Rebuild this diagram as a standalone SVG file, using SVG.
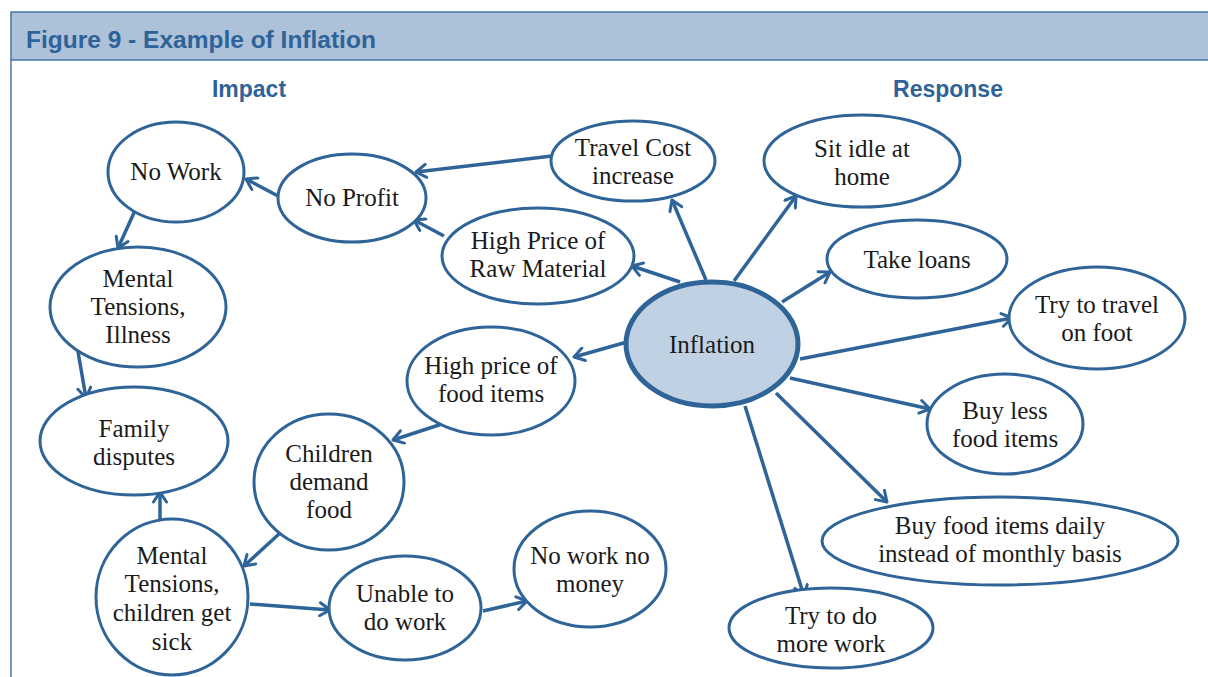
<svg xmlns="http://www.w3.org/2000/svg" width="1208" height="677" viewBox="0 0 1208 677">
<defs>
<marker id="arr" markerWidth="16" markerHeight="16" refX="13" refY="8" orient="auto" markerUnits="userSpaceOnUse">
<path d="M3,1.5 L13,8 L3,14.5" fill="none" stroke="#2f6499" stroke-width="3" stroke-linecap="round" stroke-linejoin="round"/>
</marker>
</defs>
<style>
.n{fill:#fff;stroke:#2f6499;stroke-width:3}
.c{fill:#c0d1e3;stroke:#2f6499;stroke-width:5}
.t{font-family:"Liberation Serif","Times New Roman",serif;font-size:25px;fill:#1a1a1a;text-anchor:middle}
.h{font-family:"Liberation Sans",Arial,sans-serif;font-weight:bold;fill:#2e6399;text-anchor:middle}
#connectors line{stroke:#2f6499;stroke-width:3.5;marker-end:url(#arr)}
</style>
<rect width="1208" height="677" fill="#fff"/>
<g id="frame">
<rect x="11" y="12" width="1210" height="48" fill="#adc2d8" stroke="#4a74a4" stroke-width="1.5"/>
<line x1="11" y1="60" x2="11" y2="677" stroke="#4a74a4" stroke-width="1.5"/>
<text x="26" y="48" class="h" style="text-anchor:start;font-size:24.5px">Figure 9 - Example of Inflation</text>
<text x="249" y="97" class="h" style="font-size:23px">Impact</text>
<text x="948" y="97" class="h" style="font-size:23px">Response</text>
</g>
<g id="connectors">
<line x1="552" y1="156" x2="416" y2="172"/>
<line x1="278" y1="196" x2="246" y2="179"/>
<line x1="444" y1="236" x2="414" y2="220"/>
<line x1="680" y1="282" x2="632" y2="266"/>
<line x1="706" y1="280" x2="672" y2="200"/>
<line x1="734" y1="281" x2="796" y2="196"/>
<line x1="782" y1="302" x2="830" y2="272"/>
<line x1="800" y1="359" x2="1012" y2="318"/>
<line x1="790" y1="378" x2="930" y2="409"/>
<line x1="776" y1="393" x2="887" y2="502"/>
<line x1="745" y1="406" x2="804" y2="596"/>
<line x1="627" y1="342" x2="574" y2="357"/>
<line x1="442" y1="424" x2="393" y2="440"/>
<line x1="279" y1="534" x2="244" y2="566"/>
<line x1="160" y1="520" x2="160" y2="492"/>
<line x1="250" y1="604" x2="330" y2="610"/>
<line x1="483" y1="611" x2="527" y2="601"/>
<line x1="138" y1="204" x2="118" y2="248"/>
<line x1="77" y1="346" x2="86" y2="398"/>
</g>
<g id="no-work"><ellipse cx="176" cy="172" rx="68" ry="50" class="n"/><text x="176" y="180" class="t">No Work</text></g>
<g id="no-profit"><ellipse cx="352" cy="198" rx="74" ry="44" class="n"/><text x="352" y="206" class="t">No Profit</text></g>
<g id="travel-cost"><ellipse cx="633" cy="161" rx="82" ry="40" class="n"/><text x="633" y="156" class="t">Travel Cost</text><text x="633" y="184" class="t">increase</text></g>
<g id="raw-material"><ellipse cx="538" cy="256" rx="96" ry="48" class="n"/><text x="538" y="249" class="t">High Price of</text><text x="538" y="277" class="t">Raw Material</text></g>
<g id="sit-idle"><ellipse cx="862" cy="161" rx="98" ry="46" class="n"/><text x="862" y="157" class="t">Sit idle at</text><text x="862" y="185" class="t">home</text></g>
<g id="take-loans"><ellipse cx="917" cy="259" rx="90" ry="39" class="n"/><text x="917" y="268" class="t">Take loans</text></g>
<g id="travel-foot"><ellipse cx="1097" cy="318" rx="88" ry="51" class="n"/><text x="1097" y="313" class="t">Try to travel</text><text x="1097" y="341" class="t">on foot</text></g>
<g id="inflation"><ellipse cx="712" cy="344" rx="86" ry="62" class="c"/><text x="712" y="353" class="t">Inflation</text></g>
<g id="food-price"><ellipse cx="491" cy="381" rx="84" ry="54" class="n"/><text x="491" y="374" class="t">High price of</text><text x="491" y="402" class="t">food items</text></g>
<g id="mental-illness"><ellipse cx="138" cy="307" rx="88" ry="60" class="n"/><text x="138" y="287" class="t">Mental</text><text x="138" y="315" class="t">Tensions,</text><text x="138" y="343" class="t">Illness</text></g>
<g id="family-disputes"><ellipse cx="134" cy="441" rx="94" ry="54" class="n"/><text x="134" y="437" class="t">Family</text><text x="134" y="465" class="t">disputes</text></g>
<g id="children-demand"><ellipse cx="329" cy="482" rx="75" ry="68" class="n"/><text x="329" y="462" class="t">Children</text><text x="329" y="490" class="t">demand</text><text x="329" y="518" class="t">food</text></g>
<g id="buy-less"><ellipse cx="1005" cy="424" rx="78" ry="50" class="n"/><text x="1005" y="419" class="t">Buy less</text><text x="1005" y="447" class="t">food items</text></g>
<g id="buy-daily"><ellipse cx="1000" cy="541" rx="178" ry="44" class="n"/><text x="1000" y="534" class="t">Buy food items daily</text><text x="1000" y="562" class="t">instead of monthly basis</text></g>
<g id="mental-children"><ellipse cx="172" cy="597" rx="76" ry="78" class="n"/><text x="172" y="564" class="t">Mental</text><text x="172" y="592" class="t">Tensions,</text><text x="172" y="621" class="t">children get</text><text x="172" y="650" class="t">sick</text></g>
<g id="unable-work"><ellipse cx="405" cy="608" rx="76" ry="52" class="n"/><text x="405" y="602" class="t">Unable to</text><text x="405" y="630" class="t">do work</text></g>
<g id="no-money"><ellipse cx="590" cy="569" rx="76" ry="58" class="n"/><text x="590" y="564" class="t">No work no</text><text x="590" y="592" class="t">money</text></g>
<g id="more-work"><ellipse cx="831" cy="628" rx="102" ry="40" class="n"/><text x="831" y="624" class="t">Try to do</text><text x="831" y="652" class="t">more work</text></g>
</svg>
